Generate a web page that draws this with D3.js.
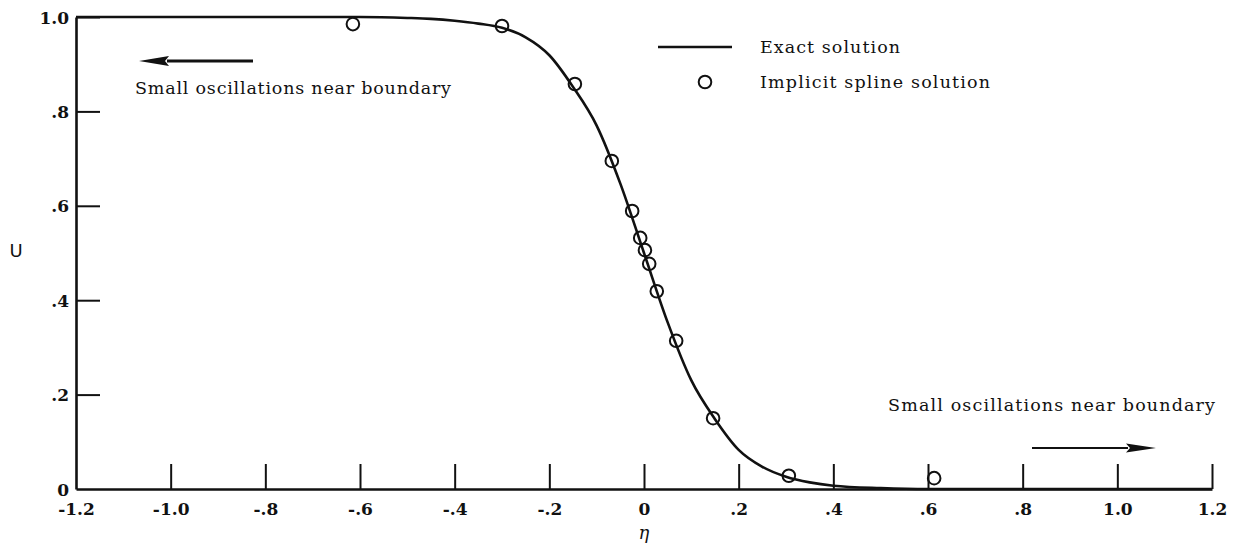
<!DOCTYPE html>
<html>
<head>
<meta charset="utf-8">
<script src="https://cdn.jsdelivr.net/npm/d3@7"></script>
<style>
  html, body { margin: 0; padding: 0; background: #fff; }
  svg { display: block; }
  .tick text { font-family: "DejaVu Serif", serif; font-weight: bold; font-size: 17px; fill: #111; }
  .note { font-family: "DejaVu Serif", serif; font-size: 17.5px; fill: #111; }
</style>
</head>
<body>
<svg id="chart" width="1240" height="550"></svg>
<script>
// Axis ticks
const xTickValues = [-1.2, -1.0, -0.8, -0.6, -0.4, -0.2, 0, 0.2, 0.4, 0.6, 0.8, 1.0, 1.2];
const xTickLabels = ["-1.2", "-1.0", "-.8", "-.6", "-.4", "-.2", "0", ".2", ".4", ".6", ".8", "1.0", "1.2"];
const yTickValues = [0, 0.2, 0.4, 0.6, 0.8, 1.0];
const yTickLabels = ["0", ".2", ".4", ".6", ".8", "1.0"];

// Exact solution profile u(eta)
const exactEta = [-1.2, -0.8, -0.6, -0.5, -0.45, -0.4, -0.35, -0.3, -0.25, -0.2, -0.15, -0.1, -0.05, 0,
                  0.05, 0.1, 0.15, 0.2, 0.25, 0.3, 0.35, 0.4, 0.5, 0.6, 0.8, 1.2];
const exactU   = [1.0, 1.0, 1.0, 0.998, 0.996, 0.992, 0.986, 0.977, 0.957, 0.919, 0.852, 0.770, 0.647, 0.5,
                  0.353, 0.230, 0.148, 0.083, 0.047, 0.026, 0.014, 0.007, 0.002, 0.0, 0.0, 0.0];

// Implicit spline solution nodes
const splineEta = [-0.615, -0.300, -0.146, -0.068, -0.025, -0.008, 0.002, 0.011, 0.027, 0.068, 0.146, 0.306, 0.613];
const splineU   = [0.985, 0.981, 0.858, 0.695, 0.589, 0.532, 0.506, 0.477, 0.419, 0.314, 0.150, 0.028, 0.023];

const legendLabels = ["Exact solution", "Implicit spline solution"];
const noteText = "Small oscillations near boundary";

const svg = d3.select("#chart");

const x = d3.scaleLinear().domain([-1.2, 1.2]).range([76, 1212]);
const y = d3.scaleLinear().domain([0, 1]).range([489, 17]);

// x axis, ticks pointing up into the plot
const xAxis = d3.axisBottom(x)
  .tickValues(xTickValues)
  .tickFormat((d, i) => xTickLabels[i])
  .tickSizeInner(-25)
  .tickSizeOuter(0)
  .tickPadding(14);

const gx = svg.append("g").attr("transform", `translate(0,${y(0)})`).call(xAxis);
gx.select(".domain").attr("stroke", "#111").attr("stroke-width", 2.6);
gx.selectAll(".tick line").attr("stroke", "#111").attr("stroke-width", 2)
  .filter((d, i) => i === 0).remove();

// y axis, ticks pointing right
const yAxis = d3.axisLeft(y)
  .tickValues(yTickValues)
  .tickFormat((d, i) => yTickLabels[i])
  .tickSizeInner(-24)
  .tickSizeOuter(0)
  .tickPadding(7);

const gy = svg.append("g").attr("transform", `translate(${x(-1.2)},0)`).call(yAxis);
gy.select(".domain").attr("stroke", "#111").attr("stroke-width", 2.6);
gy.selectAll(".tick line").attr("stroke", "#111").attr("stroke-width", 2)
  .filter((d, i) => i === 0).remove();
gy.selectAll(".tick text").attr("dy", "0.36em");

// axis titles
svg.append("text")
  .attr("x", x(0)).attr("y", 539)
  .attr("text-anchor", "middle")
  .style("font-family", "'DejaVu Serif', serif").style("font-style", "italic").style("font-size", "18px")
  .attr("fill", "#111")
  .text("η");

svg.append("text")
  .attr("x", 16).attr("y", 257)
  .attr("text-anchor", "middle")
  .style("font-family", "'DejaVu Sans', sans-serif").style("font-size", "18px")
  .attr("fill", "#111")
  .text("U");

// exact solution curve
const line = d3.line()
  .x(i => x(exactEta[i]))
  .y(i => y(exactU[i]))
  .curve(d3.curveMonotoneX);

svg.append("path")
  .attr("d", line(d3.range(exactEta.length)))
  .attr("fill", "none")
  .attr("stroke", "#111")
  .attr("stroke-width", 2.6)
  .attr("stroke-linejoin", "round");

// spline solution markers
svg.append("g").selectAll("circle")
  .data(d3.range(splineEta.length))
  .join("circle")
  .attr("cx", i => x(splineEta[i]))
  .attr("cy", i => y(splineU[i]))
  .attr("r", 6.3)
  .attr("fill", "none")
  .attr("stroke", "#111")
  .attr("stroke-width", 2);

// legend
const lg = svg.append("g");
lg.append("line").attr("x1", 658).attr("x2", 732).attr("y1", 47).attr("y2", 47)
  .attr("stroke", "#111").attr("stroke-width", 2.6);
lg.append("circle").attr("cx", 705).attr("cy", 82).attr("r", 6.3)
  .attr("fill", "none").attr("stroke", "#111").attr("stroke-width", 2);
lg.append("text").attr("class", "note").attr("x", 760).attr("y", 53)
  .attr("textLength", 140).attr("lengthAdjust", "spacing").text(legendLabels[0]);
lg.append("text").attr("class", "note").attr("x", 760).attr("y", 88)
  .attr("textLength", 230).attr("lengthAdjust", "spacing").text(legendLabels[1]);

// boundary annotations with arrows
svg.append("text").attr("class", "note").attr("x", 135).attr("y", 94)
  .attr("textLength", 316).attr("lengthAdjust", "spacing").text(noteText);
svg.append("text").attr("class", "note").attr("x", 888).attr("y", 411)
  .attr("textLength", 327).attr("lengthAdjust", "spacing").text(noteText);

function arrow(x0, x1, yy, headLen, halfW, shaftW) {
  const dir = Math.sign(x1 - x0);
  const baseX = x1 - dir * headLen;
  svg.append("line").attr("x1", x0).attr("x2", baseX + dir * 2).attr("y1", yy).attr("y2", yy)
    .attr("stroke", "#111").attr("stroke-width", shaftW);
  svg.append("path")
    .attr("d", `M${x1},${yy}L${baseX},${yy - halfW}L${baseX + dir * 4},${yy}L${baseX},${yy + halfW}Z`)
    .attr("fill", "#111");
}
arrow(253, 139, 61, 30, 5, 3);
arrow(1032, 1156, 448, 30, 4.5, 2.2);
</script>
</body>
</html>
